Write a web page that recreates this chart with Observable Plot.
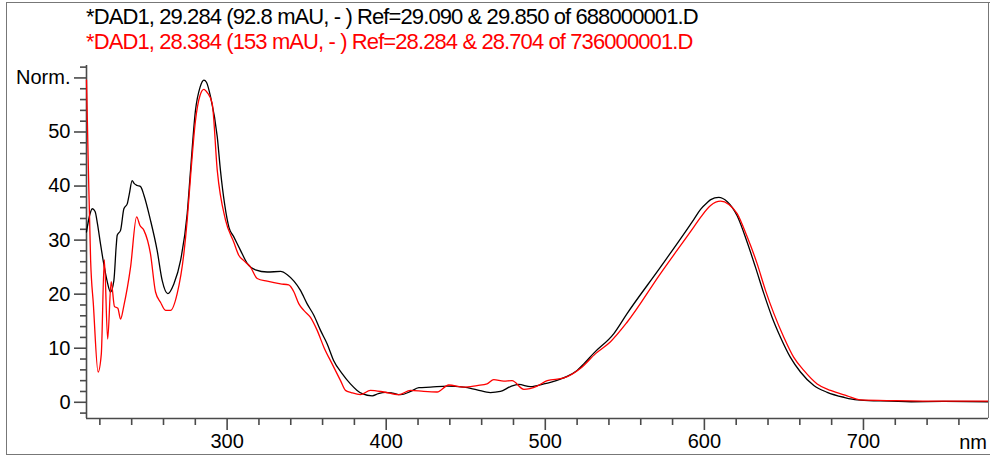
<!DOCTYPE html>
<html><head><meta charset="utf-8">
<script src="https://cdn.jsdelivr.net/npm/d3@7"></script>
<script src="https://cdn.jsdelivr.net/npm/@observablehq/plot@0.6"></script>
<style>
html,body{margin:0;padding:0;background:#fff;}
#wrap{position:relative;width:990px;height:459px;overflow:hidden;font-family:"Liberation Sans",Arial,sans-serif;background:#fff;}
.title{position:absolute;left:86px;font-size:22px;line-height:22px;letter-spacing:-0.9px;white-space:nowrap;}
#frame{position:absolute;left:6px;top:2px;width:990px;height:451px;border-left:1px solid #777;border-top:1px solid #777;border-bottom:1px solid #777;}
#rline{position:absolute;left:988px;top:2px;width:1px;height:416px;background:#777;}
#nm{position:absolute;right:3px;top:432px;font-size:20px;line-height:20px;}
#chart{position:absolute;left:0;top:0;}
</style></head>
<body>
<div id="wrap">
  <div id="frame"></div>
  <div id="chart"></div>
  <div id="rline"></div>
  <div class="title" id="t1" style="top:6px;color:#000"></div>
  <div class="title" id="t2" style="top:31px;color:#ff0000"></div>
  <div id="nm"></div>
</div>
<script>
const titleBlack = "*DAD1, 29.284 (92.8 mAU, - ) Ref=29.090 & 29.850 of 688000001.D";
const titleRed = "*DAD1, 28.384 (153 mAU, - ) Ref=28.284 & 28.704 of 736000001.D";
const xUnit = "nm";

const blackW = [211.6,213.5,215.2,217,218.5,220.4,222.5,224.5,226.7,228.8,230.3,230.9,233,235.1,237.2,238.5,240.3,241.5,243.5,245.6,247.7,251.8,256,259.2,262.7,266.5,270.7,274.9,277,280.1,283,285.4,287,289.6,293.8,295.8,298.5,301.1,304.2,308.4,312.6,317.8,325.2,333.6,337.8,342,346.1,350.3,354.5,358.7,362.9,367,372.3,377.5,381.7,384.9,391.2,395,399.6,404,409,415.3,420.5,427.8,438.3,448.8,457.1,465.5,471.8,478.1,483.3,490.7,499.1,503.2,509.5,513.7,520,524.2,530.5,543.1,551.4,572.4,593.3,597.6,601.7,604,609,614.4,620.6,626.9,632.1,637.4,642.6,647.9,654.1,660.4,668.8,677.2,687.6,696,710,730,750,778.6];
const blackV = [31.5,34.5,35.8,35.3,33,29.3,25.5,22.5,20.4,22.5,29,30.9,31.8,35.8,36.7,38.5,41.0,40.5,40.1,39.9,38.3,33.7,28.1,22.5,20.1,21.9,26.2,34.9,42.9,54.0,58.3,59.6,59.2,56.5,49.1,42.9,36.5,32.4,30.6,28.1,25.7,24.5,24.1,24.2,23.6,22.4,20.7,18.2,16.1,13.3,10.8,7.7,5.3,3.4,2.2,1.6,1.2,1.6,1.85,1.7,1.4,2.0,2.7,2.8,3.0,2.8,2.3,1.8,2.0,2.9,3.3,2.9,3.4,3.7,4.3,4.8,5.9,7.1,9.1,12.7,16.4,25.0,33.8,35.7,36.9,37.5,37.9,37.1,34.5,29.6,25.0,20.1,15.7,12.0,8.3,5.6,3.1,1.85,0.93,0.44,0.25,0.1,0.15,0.1];

const redW = [211.6,212.8,214.2,215.9,218.9,220.9,222.8,224.9,227.1,229.2,231.3,233,235.1,239.3,243.1,245.2,247.7,251.8,255,258.1,261.3,264.4,268.6,272.8,274.9,277,280.1,283,285.4,287.5,290.6,293.8,299,304.2,307.3,310.5,314.7,318.9,325.2,333.6,338.7,342,345.1,348.2,352.4,356.6,360.8,366,371.3,374.4,378,383.8,390.1,398.5,407.9,415.3,423.6,432,439.3,448.8,457.1,463.4,467.6,473.9,479.1,486.5,494.9,501.2,511.7,522.2,531.6,541,551.4,572.4,593.3,597.6,603.9,610.2,615.4,620.6,626.9,633.2,638.4,643.7,650,656.2,662.5,670.9,679.3,689.7,698.1,720,750,778.6];
const redV = [59.6,42.9,26.2,18.2,5.6,8.9,26.4,11.7,22.3,17.7,17.4,15.4,17.9,25.0,34.3,32.7,31.8,27.5,20.4,18.5,17.0,17.0,20.1,27.5,33.7,41.7,52.1,56.8,57.9,57.3,55.3,42.9,33.7,29.6,27.2,26.2,25.0,22.9,22.4,21.9,21.7,20.4,18.2,17.0,15.7,13.3,10.2,7.1,4.0,2.2,1.8,1.4,2.2,1.9,1.4,2.2,2.0,1.9,3.2,2.8,3.1,3.4,4.2,3.9,4.0,2.4,3.0,4.0,4.5,6.3,9.0,11.2,14.8,23.8,32.4,34.2,36.4,37.2,36.6,34.9,30.6,25.6,20.7,16.4,12.0,8.3,5.9,3.4,2.2,1.2,0.44,0.3,0.2,0.2];

const yMajorTicks = [0,10,20,30,40,50,60];
const yMajorLabels = ["0","10","20","30","40","50","Norm."];
const yMinorTicks = [-2,2,4,6,8,12,14,16,18,22,24,26,28,32,34,36,38,42,44,46,48,52,54,56,58,62];
const xMajorTicks = [300,400,500,600,700];
const xMinorTicks = [220,240,260,280,320,340,360,380,420,440,460,480,520,540,560,580,620,640,660,680,720,740,760];
const xDomain = [211.6, 778.6];
const yDomain = [-3, 62.3];

const black = blackW.map((w,i)=>({w, v: blackV[i]}));
const red = redW.map((w,i)=>({w, v: redV[i]}));

document.getElementById("t1").textContent = titleBlack;
document.getElementById("t2").textContent = titleRed;
document.getElementById("nm").textContent = xUnit;

const axisColor = "#4a4a4a";
const chart = Plot.plot({
  width: 990, height: 459,
  marginLeft: 86, marginRight: 2, marginTop: 65, marginBottom: 41,
  x: {domain: xDomain},
  y: {domain: yDomain},
  style: {fontFamily: "'Liberation Sans', Arial, sans-serif", fontSize: "20px", background: "transparent", color: "#000"},
  marks: [
    Plot.axisY(yMinorTicks, {tickSize: 6, tickFormat: () => "", stroke: axisColor, strokeWidth: 1.6, label: null}),
    Plot.axisY(yMajorTicks, {tickSize: 12, tickPadding: 4, tickFormat: d => yMajorLabels[yMajorTicks.indexOf(d)], stroke: axisColor, fill: "#000", strokeWidth: 1.6, label: null}),
    Plot.axisX(xMinorTicks, {tickSize: 7, tickFormat: () => "", stroke: axisColor, strokeWidth: 1.6, label: null}),
    Plot.axisX(xMajorTicks, {tickSize: 12, tickPadding: 3, tickFormat: d => String(d), stroke: axisColor, fill: "#000", strokeWidth: 1.6, label: null}),
    Plot.ruleX([xDomain[0]], {stroke: axisColor, strokeWidth: 1.6}),
    Plot.ruleY([yDomain[0]], {stroke: axisColor, strokeWidth: 1.6}),
    Plot.line(black, {x: "w", y: "v", stroke: "#000", strokeWidth: 1.3, curve: "monotone-x"}),
    Plot.line(red, {x: "w", y: "v", stroke: "#ff0000", strokeWidth: 1.3, curve: "monotone-x"})
  ]
});
document.getElementById("chart").appendChild(chart);
</script>
</body></html>
